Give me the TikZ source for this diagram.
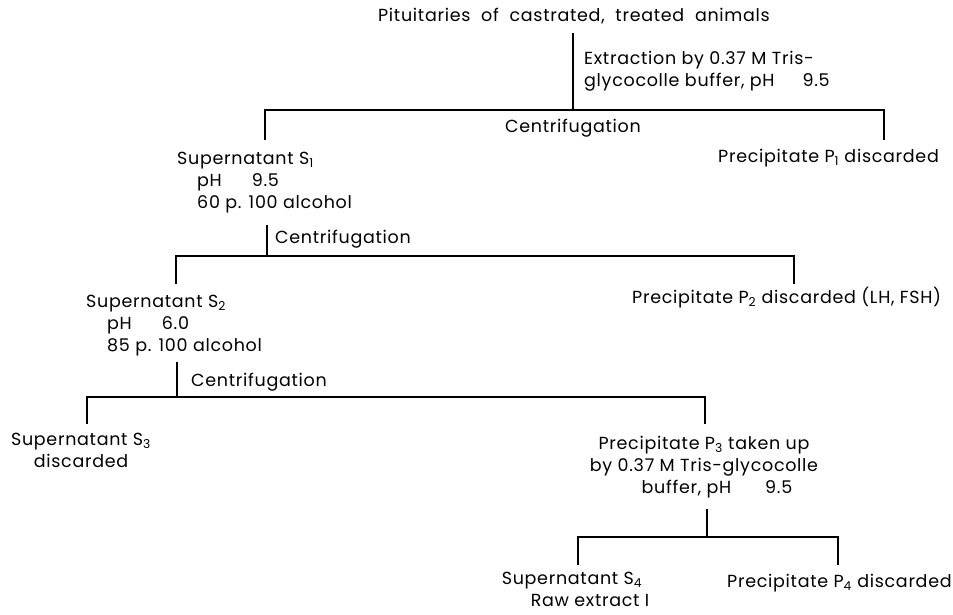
\documentclass[tikz,border=0pt]{standalone}
\usepackage{fontspec}
\setmainfont{Poppins}[LetterSpace=4]
\begin{document}
\begin{tikzpicture}[x=1pt,y=-1pt,
  txt/.style={inner sep=0pt, font=\fontsize{17.5}{22}\selectfont},
  conn/.style={line width=1.2pt}]
\useasboundingbox (0,0) rectangle (953,615);
% texts
\node[txt,anchor=base] (top) at (574,22) {Pituitaries\ \ of\ \ castrated,\ \ treated\ \ animals};
\node[txt,anchor=north west,align=left] (ext) at (584,51) {Extraction by 0.37 M Tris-\\glycocolle buffer, pH\hspace{28pt}9.5};
\node[txt,anchor=north west,align=left] (s1) at (177,152) {Supernatant S\textsubscript{1}\\\hspace*{20pt}pH\hspace{30pt}9.5\\\hspace*{20pt}60 p. 100 alcohol};
\node[txt,anchor=west] (p1) at (718,158) {Precipitate P\textsubscript{1} discarded};
\node[txt,anchor=north west,align=left] (s2) at (86,295) {Supernatant S\textsubscript{2}\\\hspace*{21pt}pH\hspace{30pt}6.0\\\hspace*{21pt}85 p. 100 alcohol};
\node[txt,anchor=west] (p2) at (632,298) {Precipitate P\textsubscript{2} discarded (LH, FSH)};
\node[txt,anchor=north,align=center] (s3) at (81,433) {Supernatant S\textsubscript{3}\\discarded};
\node[txt,anchor=north,align=center] (p3) at (704,436) {Precipitate P\textsubscript{3} taken up\\by 0.37 M Tris-glycocolle\\\hspace*{26pt}buffer, pH\hspace{34pt}9.5};
\node[txt,anchor=north,align=center] (s4) at (572,572) {Supernatant S\textsubscript{4}\\\hspace*{36pt}Raw extract I};
\node[txt,anchor=west] (p4) at (727,583) {Precipitate P\textsubscript{4} discarded};
% centrifugation labels
\node[txt,anchor=center] (c1) at (573,128) {Centrifugation};
\node[txt,anchor=west] (c2) at (275,239) {Centrifugation};
\node[txt,anchor=west] (c3) at (191,382) {Centrifugation};
% junction coordinates
\coordinate (t1) at (573,33);  \coordinate (j1) at (573,110);
\coordinate (l1) at (265,110); \coordinate (r1) at (884,110);
\coordinate (t2) at (267,225); \coordinate (j2) at (267,256);
\coordinate (l2) at (176,256); \coordinate (r2) at (794,256);
\coordinate (t3) at (177,362); \coordinate (j3) at (177,397);
\coordinate (l3) at (87,397);  \coordinate (r3) at (705,397);
\coordinate (t4) at (707,509); \coordinate (j4) at (707,537);
\coordinate (l4) at (578,537); \coordinate (r4) at (838,537);
% connectors
\draw[conn] (t1) -- (j1);
\draw[conn] (l1 |- 0,140) -- (l1) -- (r1) -- (r1 |- 0,140);
\draw[conn] (t2) -- (j2);
\draw[conn] (l2 |- 0,284) -- (l2) -- (r2) -- (r2 |- 0,284);
\draw[conn] (t3) -- (j3);
\draw[conn] (l3 |- 0,424) -- (l3) -- (r3) -- (r3 |- 0,424);
\draw[conn] (t4) -- (j4);
\draw[conn] (l4 |- 0,565) -- (l4) -- (r4) -- (r4 |- 0,565);
\end{tikzpicture}
\end{document}
